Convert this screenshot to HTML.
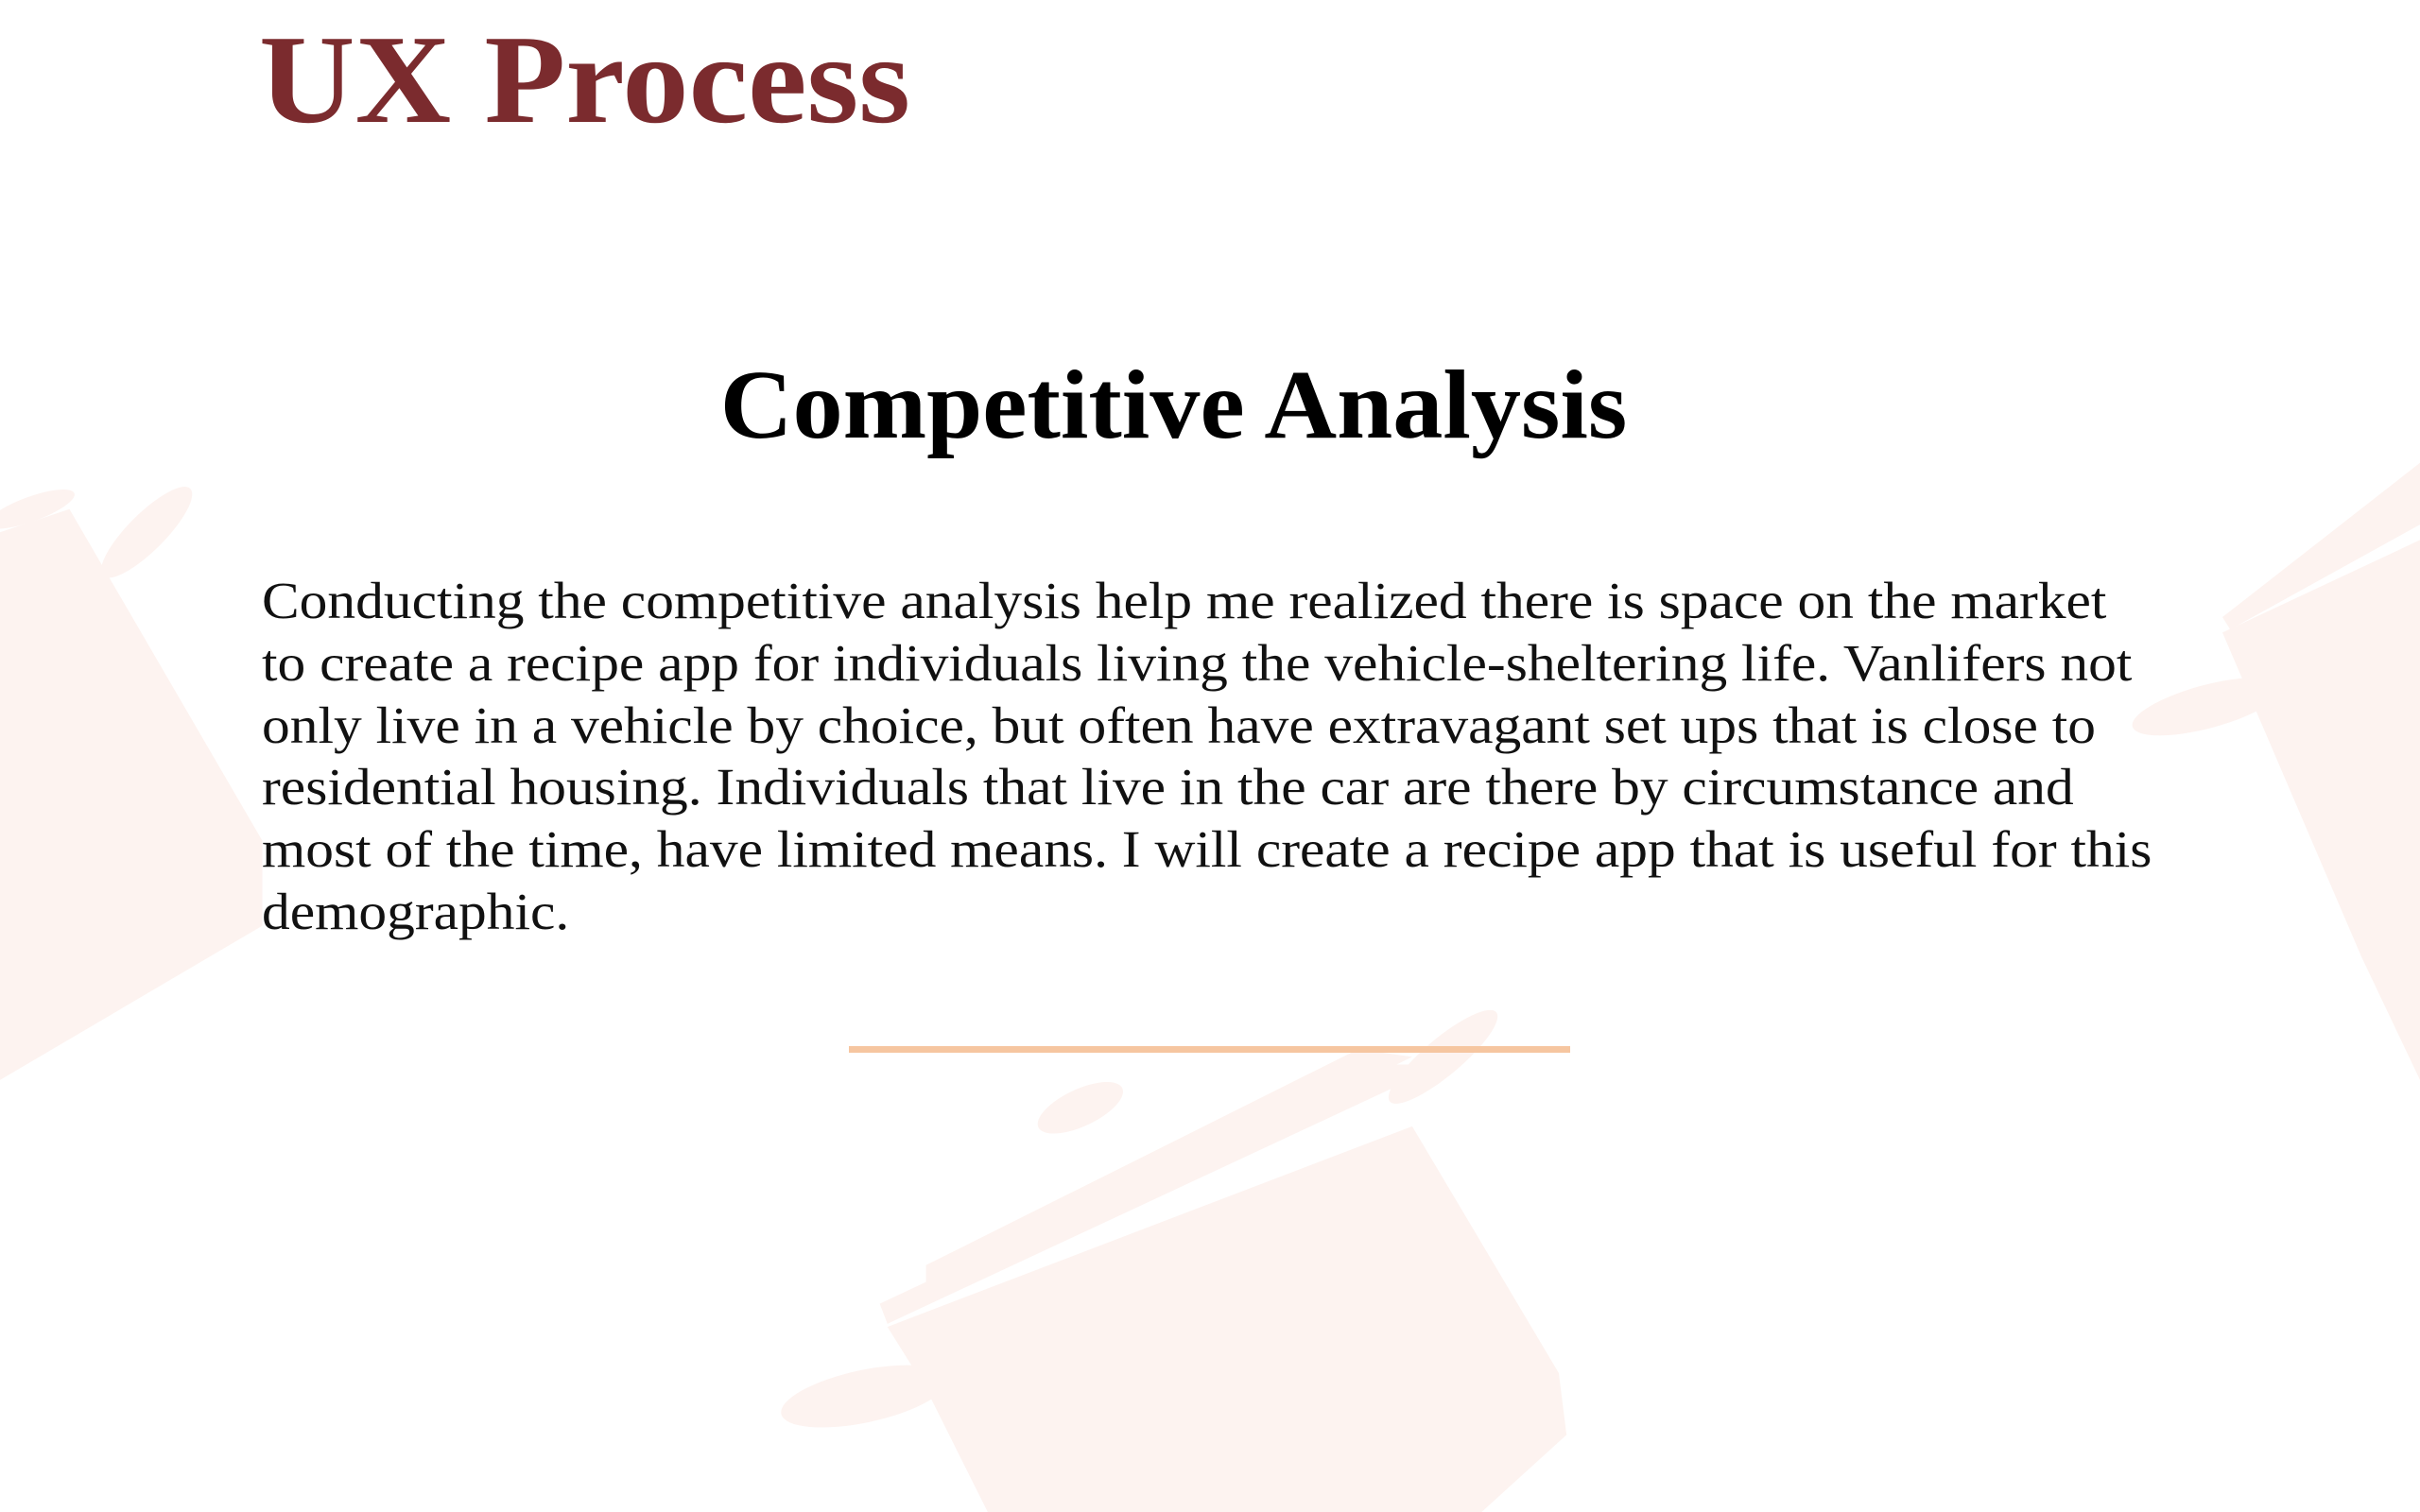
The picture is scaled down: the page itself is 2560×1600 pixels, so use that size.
<!DOCTYPE html>
<html><head><meta charset="utf-8">
<style>
html,body{margin:0;padding:0;background:#fff;}
body{width:2560px;height:1600px;position:relative;overflow:hidden;font-family:"Liberation Serif",serif;}
#bg{position:absolute;left:0;top:0;width:2560px;height:1600px;}
#title{position:absolute;left:274px;top:4px;font-size:134px;font-weight:bold;color:#7b2b2e;margin:0;line-height:1.2;white-space:nowrap;transform:scaleX(1.05);transform-origin:0 0;}
#sub{position:absolute;left:0;width:2483px;text-align:center;top:367px;font-size:104px;font-weight:bold;color:#000;margin:0;line-height:1.2;white-space:nowrap;transform:scaleX(1.022);transform-origin:1241px 0;}
#para{position:absolute;left:277px;top:603px;font-size:55px;line-height:65.8px;color:#111;margin:0;white-space:nowrap;transform:scaleX(1.081);transform-origin:0 0;}
#rule{position:absolute;left:898px;top:1107px;width:763px;height:7px;background:#f6c6a0;}
</style></head><body>
<svg id="bg" viewBox="0 0 1568 980" preserveAspectRatio="none">
 <g fill="#fdf3f0">
  <polygon points="0,345 45,330 170,545 170,600 0,700"/>
  <ellipse cx="20" cy="330" rx="30" ry="8" transform="rotate(-20 20 330)"/>
  <ellipse cx="95" cy="345" rx="40" ry="12" transform="rotate(-45 95 345)"/>
  <polygon points="1440,410 1568,350 1568,700 1530,620 1470,480"/>
  <polygon points="1440,400 1568,300 1568,340 1445,408"/>
  <ellipse cx="1430" cy="458" rx="50" ry="14" transform="rotate(-15 1430 458)"/>
  <polygon points="575,860 915,730 1010,890 1015,930 960,980 640,980 600,900"/>
  <polygon points="570,845 900,690 935,690 575,858"/>
  <ellipse cx="560" cy="905" rx="55" ry="17" transform="rotate(-12 560 905)"/>
  <ellipse cx="700" cy="718" rx="30" ry="12" transform="rotate(-25 700 718)"/>
  <ellipse cx="935" cy="685" rx="45" ry="12" transform="rotate(-40 935 685)"/>
  <polygon points="600,820 880,680 915,685 600,840"/>
 </g>
</svg>
<h1 id="title">UX Process</h1>
<h2 id="sub">Competitive Analysis</h2>
<p id="para">Conducting the competitive analysis help me realized there is space on the market<br>to create a recipe app for individuals living the vehicle-sheltering life. Vanlifers not<br>only live in a vehicle by choice, but often have extravagant set ups that is close to<br>residential housing. Individuals that live in the car are there by circumstance and<br>most of the time, have limited means. I will create a recipe app that is useful for this<br>demographic.</p>
<div id="rule"></div>
</body></html>
